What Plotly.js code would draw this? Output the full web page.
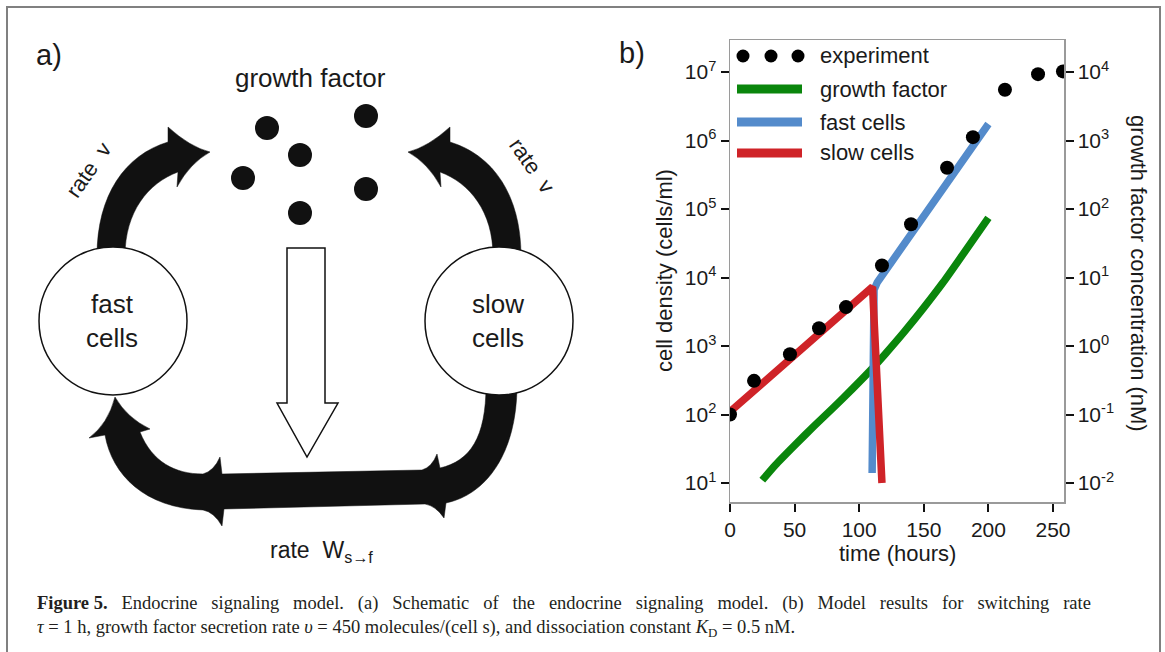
<!DOCTYPE html>
<html>
<head>
<meta charset="utf-8">
<script src="https://cdn.plot.ly/plotly-3.0.1.min.js"></script>
<style>html,body{margin:0;padding:0;background:#fff;}#chart{width:1165px;height:652px;}</style>
</head>
<body>
<div id="chart"></div>
<script>
// ---------- data ----------
const expTime    = [0, 18.6, 46.4, 68.9, 89.8, 117.6, 140.1, 168, 188, 212.8, 238.4, 257.7];
const expDensity = [100, 310, 760, 1820, 3700, 15000, 60000, 400000, 1120000, 5500000, 9300000, 10200000];

const gfTime = [25, 35, 50, 65, 80, 95, 110, 120, 135, 150, 165, 180, 200];
const gfConc = [0.011, 0.0182, 0.0355, 0.0676, 0.126, 0.240, 0.468, 0.759, 1.62, 3.63, 8.51, 21.4, 74.1];

const fastTime    = [110, 111.5, 114, 200];
const fastDensity = [14, 6600, 8500, 1740000];

const slowTime    = [0, 110.3, 117.6];
const slowDensity = [110, 7300, 10];

const xTickVals = [0, 50, 100, 150, 200, 250];
const densTickVals = [10, 100, 1000, 10000, 100000, 1000000, 10000000];
const densTickText = ['10<sup>1</sup>','10<sup>2</sup>','10<sup>3</sup>','10<sup>4</sup>','10<sup>5</sup>','10<sup>6</sup>','10<sup>7</sup>'];
const gfTickVals = [0.01, 0.1, 1, 10, 100, 1000, 10000];
const gfTickText = ['10<sup>-2</sup>','10<sup>-1</sup>','10<sup>0</sup>','10<sup>1</sup>','10<sup>2</sup>','10<sup>3</sup>','10<sup>4</sup>'];

const legendLabels = ['experiment', 'growth factor', 'fast cells', 'slow cells'];

// ---------- styling / geometry helpers ----------
const W = 1165, H = 652;
const SANS = 'Arial, "Liberation Sans", Helvetica, sans-serif';
const SERIF = '"Liberation Serif", "Times New Roman", serif';
const TXT = '#1a1a1a';
const C_GREEN = '#0a860c', C_BLUE = '#548bcb', C_RED = '#cf2328';

const px = x => x / W;
const py = y => 1 - y / H;
function path(s) {
  const toks = s.trim().split(/\s+/);
  const out = []; let isX = true;
  for (const t of toks) {
    if (/^[A-Za-z]$/.test(t)) { out.push(t); isX = true; }
    else { const v = parseFloat(t); out.push(isX ? (v / W).toFixed(5) : (1 - v / H).toFixed(5)); isX = !isX; }
  }
  return out.join(' ');
}
function mirror(s, axis) {
  const toks = s.trim().split(/\s+/);
  const out = []; let isX = true;
  for (const t of toks) {
    if (/^[A-Za-z]$/.test(t)) { out.push(t); isX = true; }
    else { const v = parseFloat(t); out.push(isX ? String(2 * axis - v) : String(v)); isX = !isX; }
  }
  return out.join(' ');
}
function ann(text, x, y, size, opts) {
  return Object.assign({ text, xref: 'paper', yref: 'paper', x: px(x), y: py(y), showarrow: false,
    xanchor: 'center', yanchor: 'middle', font: { family: SANS, size, color: TXT } }, opts || {});
}
// justified first caption line: widen word gaps with non-breaking spaces
const justify = (s, n) => s.split(' ').join(' ' + '\u00A0'.repeat(n));

// ---------- traces ----------
const traces = [
  { x: gfTime, y: gfConc, xaxis: 'x', yaxis: 'y', mode: 'lines', name: legendLabels[1],
    line: { color: C_GREEN, width: 7.5, shape: 'spline', smoothing: 0.6 }, showlegend: false, hoverinfo: 'skip' },
  { x: fastTime, y: fastDensity, xaxis: 'x', yaxis: 'y2', mode: 'lines', name: legendLabels[2],
    line: { color: C_BLUE, width: 7.5 }, showlegend: false, hoverinfo: 'skip' },
  { x: slowTime, y: slowDensity, xaxis: 'x', yaxis: 'y2', mode: 'lines', name: legendLabels[3],
    line: { color: C_RED, width: 7.5 }, showlegend: false, hoverinfo: 'skip' },
  { x: expTime, y: expDensity, xaxis: 'x', yaxis: 'y2', mode: 'markers', name: legendLabels[0],
    marker: { color: '#000', size: 14 }, showlegend: false, hoverinfo: 'skip' }
];

const tickFont = { family: SANS, size: 21, color: TXT };
const common = { ticks: 'outside', ticklen: 8, tickwidth: 2, tickcolor: '#111', showline: true,
  linecolor: '#9a9a9a', linewidth: 1.5, showgrid: false, zeroline: false, tickfont: tickFont, fixedrange: true };

// ---------- panel a schematic ----------
const leftArrow = 'M 97 256 C 97 195 125 155 168 142 L 168 127 Q 190 147 210 152 Q 190 163 177 187 L 178 172 C 148 183 125 212 125 256 Z';
const rightArrow = mirror(leftArrow, 309);
const bottomArrow = 'M 486 385 C 486 438 470 461 440 468 L 437 454 Q 432 467 422 470 L 222 474 L 220 457 Q 214 471 203 474 ' +
  'C 175 474 152 462 140 432 L 150 429 Q 127 418 115 397 Q 108 424 89 438 L 105 435 C 112 475 145 508 203 510 ' +
  'Q 214 512 222 526 L 224 509 L 425 504 Q 436 506 444 518 L 446 503 C 485 495 517 455 517 385 Z';
const whiteArrow = 'M 287 248 L 325 248 L 325 403 L 338 403 L 307 457 L 277 403 L 287 403 Z';

const gfDots = [[267,128],[366,116],[300,155],[243,178],[366,189],[300,213]];

const shapes = [];
shapes.push({ type: 'rect', xref: 'paper', yref: 'paper', x0: px(7), x1: px(1160), y0: py(680), y1: py(7),
  line: { color: '#808080', width: 2 }, fillcolor: 'rgba(0,0,0,0)', layer: 'below' });
[leftArrow, rightArrow, bottomArrow].forEach(p => shapes.push({ type: 'path', xref: 'paper', yref: 'paper', path: path(p),
  fillcolor: '#111', line: { color: '#111', width: 0.5 } }));
shapes.push({ type: 'path', xref: 'paper', yref: 'paper', path: path(whiteArrow), fillcolor: '#fff', line: { color: '#111', width: 1.5 } });
[[39,187],[425,573]].forEach(([a,b]) => shapes.push({ type: 'circle', xref: 'paper', yref: 'paper',
  x0: px(a), x1: px(b), y0: py(395), y1: py(247), fillcolor: '#fff', line: { color: '#111', width: 1.5 } }));
gfDots.forEach(([x,y]) => shapes.push({ type: 'circle', xref: 'paper', yref: 'paper',
  x0: px(x-12), x1: px(x+12), y0: py(y+12), y1: py(y-12), fillcolor: '#111', line: { width: 0 } }));

// ---------- custom legend (panel b) ----------
[743, 771, 798].forEach(x => shapes.push({ type: 'circle', xref: 'paper', yref: 'paper',
  x0: px(x-6.5), x1: px(x+6.5), y0: py(56+6.5), y1: py(56-6.5), fillcolor: '#000', line: { width: 0 } }));
[[89, C_GREEN],[122, C_BLUE],[153, C_RED]].forEach(([y,c]) => shapes.push({ type: 'line', xref: 'paper', yref: 'paper',
  x0: px(737), x1: px(802), y0: py(y), y1: py(y), line: { color: c, width: 9 } }));

const capFont = { family: SERIF, size: 18.5, color: '#231f20' };
const annotations = [
  ann('a)', 49, 55, 29),
  ann('b)', 632, 53, 29),
  ann('growth factor', 310, 78, 26),
  ann('rate  v', 88, 170, 22, { textangle: -55 }),
  ann('rate  v', 532, 165, 22, { textangle: 55 }),
  ann('fast<br>cells', 112, 321, 26),
  ann('slow<br>cells', 498, 321, 26),
  ann('rate  W<sub>s→f</sub>', 321, 551, 23),
  ann(legendLabels[0], 818, 56, 22, { xanchor: 'left' }),
  ann(legendLabels[1], 818, 89, 22, { xanchor: 'left' }),
  ann(legendLabels[2], 818, 122, 22, { xanchor: 'left' }),
  ann(legendLabels[3], 818, 153, 22, { xanchor: 'left' }),
  ann('cell density (cells/ml)', 665, 271, 22, { textangle: -90 }),
  ann('time (hours)', 897, 553, 22),
  ann('growth factor concentration (nM)', 1139, 273, 22, { textangle: 90 }),
  ann('<b>Figure\u00A05.</b>\u00A0\u00A0\u00A0' + justify('Endocrine signaling model. (a) Schematic of the endocrine signaling model. (b) Model results for switching rate', 2),
    35, 603, 18.5, { xanchor: 'left', font: capFont }),
  ann('<i>τ</i> = 1 h, growth factor secretion rate <i>υ</i> = 450 molecules/(cell s), and dissociation constant <i>K</i><sub>D</sub> = 0.5 nM.',
    35, 628, 18.5, { xanchor: 'left', font: capFont })
];

const layout = {
  width: W, height: H,
  margin: { l: 0, r: 0, t: 0, b: 0, pad: 0 },
  paper_bgcolor: '#fff', plot_bgcolor: 'rgba(0,0,0,0)',
  showlegend: false,
  xaxis: Object.assign({}, common, { domain: [px(730), px(1064)], range: [0, 258.5], anchor: 'y',
    tickvals: xTickVals, ticktext: xTickVals.map(String), mirror: true }),
  yaxis: Object.assign({}, common, { domain: [py(502), py(40)], type: 'log', range: [-2.277, 4.467],
    side: 'right', anchor: 'x', tickvals: gfTickVals, ticktext: gfTickText }),
  yaxis2: Object.assign({}, common, { type: 'log', range: [0.723, 7.467], side: 'left', overlaying: 'y',
    anchor: 'x', tickvals: densTickVals, ticktext: densTickText }),
  shapes, annotations
};

Plotly.newPlot('chart', traces, layout, { displayModeBar: false, staticPlot: true });
</script>
</body>
</html>
